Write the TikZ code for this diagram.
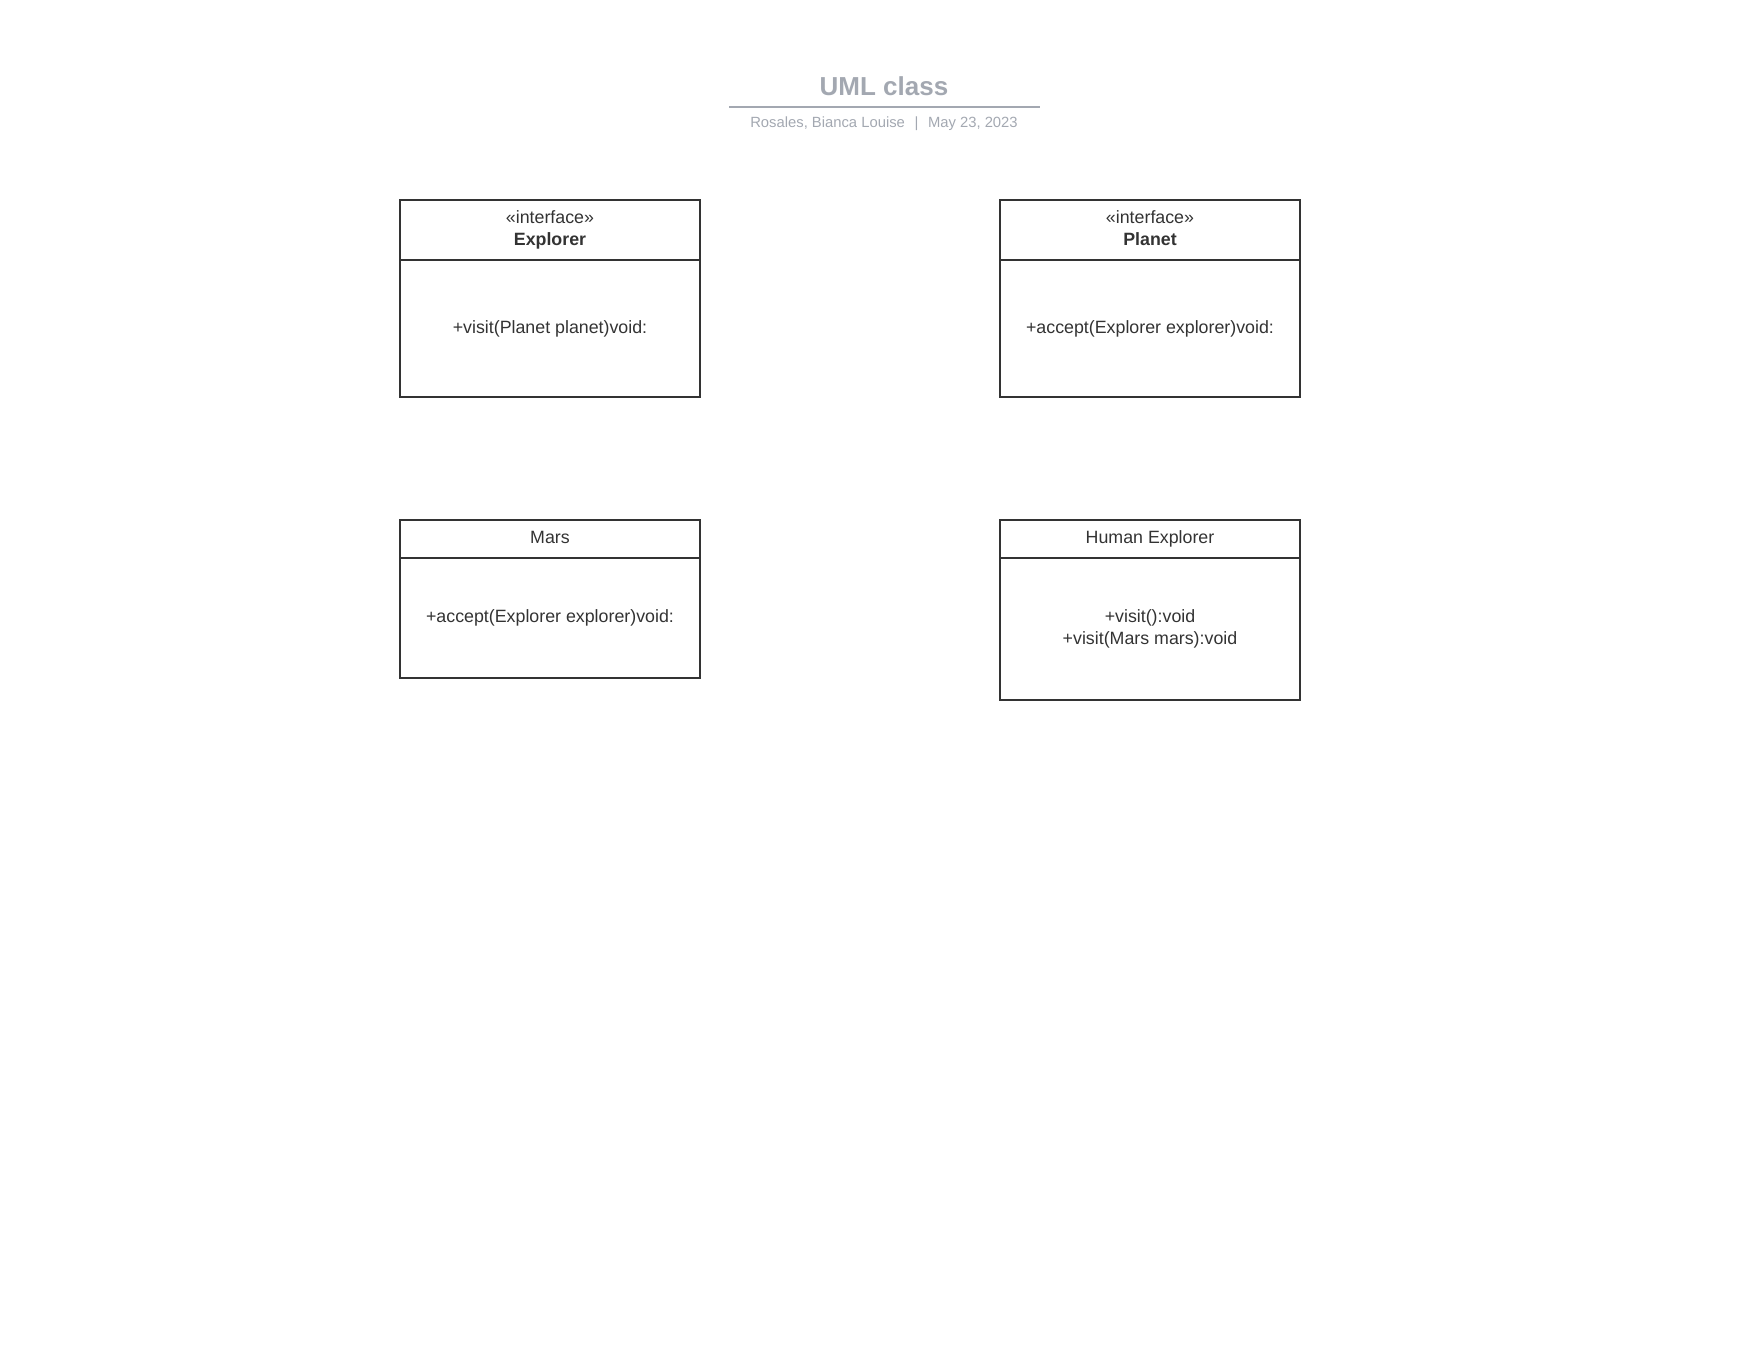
\documentclass[tikz,border=0pt]{standalone}
\usepackage{fontspec}
\setmainfont{Liberation Sans}
\usetikzlibrary{positioning}
\definecolor{titlegray}{HTML}{A3A8B1}
\definecolor{inkgray}{HTML}{333333}

\begin{document}
\begin{tikzpicture}[x=0.5pt, y=-0.5pt,
  classhead/.style={draw=inkgray, line width=1pt, minimum width=150pt, inner sep=0pt, outer sep=0pt, align=center, text=inkgray, font=\fontsize{8.9}{10.8}\selectfont},
  classbody/.style={classhead, below=0pt of #1}]
\useasboundingbox (0, 0) rectangle (1760, 1360);
% title block
\node[text=titlegray, font=\fontsize{13}{15}\selectfont\bfseries] (title) at (884, 86.5){UML class};
\coordinate (rule-l) at (729, 107);
\coordinate (rule-r) at (1040, 107);
\draw[titlegray, line width=1pt] (rule-l) -- (rule-r);
\node[text=titlegray, font=\fontsize{7.4}{9}\selectfont] (author) at (884, 123.5){Rosales, Bianca Louise\hspace{0.65em}|\hspace{0.65em}May 23, 2023};
% interfaces
\node[classhead, minimum height=30pt] (explorer) at (550, 230){«interface»\\\textbf{Explorer}};
\node[classbody=explorer, minimum height=68.5pt] (explorer-ops){+visit(Planet planet)void:};
\node[classhead, minimum height=30pt] (planet) at (1150, 230){«interface»\\\textbf{Planet}\vphantom{p}};
\node[classbody=planet, minimum height=68.5pt] (planet-ops){+accept(Explorer explorer)void:};
% classes
\node[classhead, minimum height=18.75pt] (mars) at (550, 539){Mars\vphantom{p}};
\node[classbody=mars, minimum height=60pt] (mars-ops){+accept(Explorer explorer)void:};
\node[classhead, minimum height=18.75pt] (human) at (1150, 539){Human Explorer};
\node[classbody=human, minimum height=71pt] (human-ops){+visit():void\\+visit(Mars mars):void};
\end{tikzpicture}
\end{document}
